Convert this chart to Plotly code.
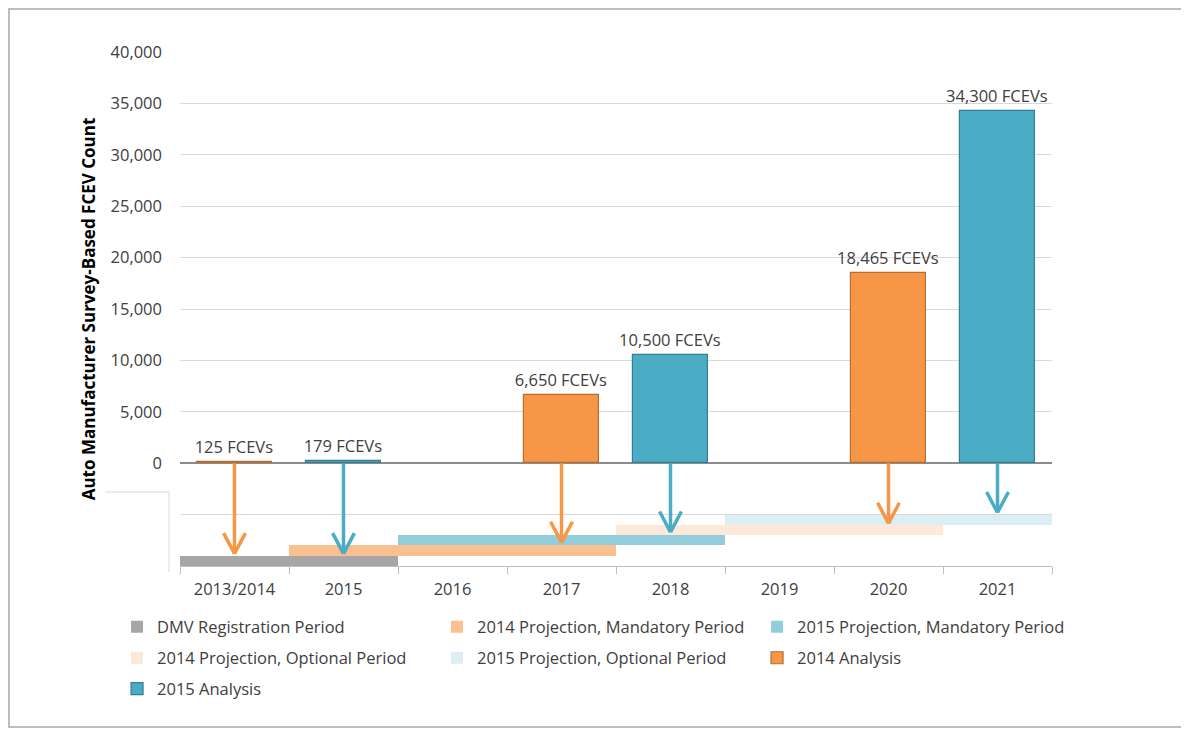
import plotly.graph_objects as go

# ---------------- data ----------------
categories = ["2013/2014", "2015", "2016", "2017", "2018", "2019", "2020", "2021"]

analysis_2014 = [125, None, None, 6650, None, None, 18465, None]
analysis_2015 = [None, 179, None, None, 10500, None, None, 34300]

period_thickness = 1000
dmv_years = ["2013/2014", "2015"]
dmv_base = -10000
mand2014_years = ["2015", "2016", "2017"]
mand2014_base = -9000
mand2015_years = ["2016", "2017", "2018"]
mand2015_base = -8000
opt2014_years = ["2018", "2019", "2020"]
opt2014_base = -7000
opt2015_years = ["2019", "2020", "2021"]
opt2015_base = -6000

arrow_years = ["2013/2014", "2015", "2017", "2018", "2020", "2021"]
arrow_series = ["2014", "2015", "2014", "2015", "2014", "2015"]
arrow_tips = [-8800, -8800, -7700, -6700, -5850, -4800]

y_tickvals = [-5000, 0, 5000, 10000, 15000, 20000, 25000, 30000, 35000, 40000]
y_ticktext = ["", "0", "5,000", "10,000", "15,000", "20,000", "25,000", "30,000", "35,000", "40,000"]

# ---------------- style ----------------
FONT = "Open Sans"
FS = 16.5
TXT = "#404040"
C_DMV = "#A6A6A6"
C_M14 = "#FAC090"
C_M15 = "#92CDDC"
C_O14 = "#FDE9D9"
C_O15 = "#DAEEF3"
C_A14 = "#F79646"
C_A15 = "#4BACC6"
L_A14 = "#B66D31"
L_A15 = "#357D91"

fig = go.Figure()


def period_bar(name, years, base, color, legend):
    fig.add_trace(go.Bar(
        name=name, x=years, y=[period_thickness] * len(years),
        base=[base] * len(years), width=1,
        marker=dict(color=color, line=dict(width=0)),
        legend=legend, hoverinfo="skip",
    ))


period_bar("DMV Registration Period", dmv_years, dmv_base, C_DMV, "legend")
period_bar("2014 Projection, Mandatory Period", mand2014_years, mand2014_base, C_M14, "legend")
period_bar("2015 Projection, Mandatory Period", mand2015_years, mand2015_base, C_M15, "legend")
period_bar("2014 Projection, Optional Period", opt2014_years, opt2014_base, C_O14, "legend2")
period_bar("2015 Projection, Optional Period", opt2015_years, opt2015_base, C_O15, "legend2")

fig.add_trace(go.Bar(
    name="2014 Analysis", x=categories, y=analysis_2014, width=0.68,
    marker=dict(color=C_A14, line=dict(color=L_A14, width=1.2)),
    texttemplate="%{y:,.0f} FCEVs", textposition="outside", constraintext="none",
    textfont=dict(family=FONT, size=FS, color=TXT), cliponaxis=False,
    legend="legend2",
))
fig.add_trace(go.Bar(
    name="2015 Analysis", x=categories, y=analysis_2015, width=0.68,
    marker=dict(color=C_A15, line=dict(color=L_A15, width=1.2)),
    texttemplate="%{y:,.0f} FCEVs", textposition="outside", constraintext="none",
    textfont=dict(family=FONT, size=FS, color=TXT), cliponaxis=False,
    legend="legend3",
))

# arrows (shaft + chevron) in data coordinates
shapes = []
dx, dy = 0.1, 2000
for yr, ser, tip in zip(arrow_years, arrow_series, arrow_tips):
    xi = categories.index(yr)
    col = C_A14 if ser == "2014" else C_A15
    ln = dict(color=col, width=3.5)
    shapes.append(dict(type="line", xref="x", yref="y", x0=xi, x1=xi, y0=0, y1=tip, line=ln, layer="above"))
    shapes.append(dict(type="line", xref="x", yref="y", x0=xi - dx, x1=xi, y0=tip + dy, y1=tip, line=ln, layer="above"))
    shapes.append(dict(type="line", xref="x", yref="y", x0=xi + dx, x1=xi, y0=tip + dy, y1=tip, line=ln, layer="above"))

# outer frame and left bracket of lower panel
shapes.append(dict(type="rect", xref="paper", yref="paper", x0=-0.1961, x1=1.1525, y0=-0.3132, y1=1.0837,
                   line=dict(color="#BDBDBD", width=2), layer="below"))
shapes.append(dict(type="line", xref="paper", yref="paper", x0=-0.0126, x1=-0.0126, y0=0.144, y1=-0.0117,
                   line=dict(color="#D9D9D9", width=1)))
shapes.append(dict(type="line", xref="paper", yref="paper", x0=-0.086, x1=-0.0126, y0=0.144, y1=0.144,
                   line=dict(color="#D9D9D9", width=1)))

legend_common = dict(orientation="h", xanchor="left", yanchor="middle", x=-0.0722,
                     font=dict(family=FONT, size=FS, color=TXT),
                     entrywidth=275, entrywidthmode="pixels", bgcolor="rgba(0,0,0,0)",
                     itemclick=False, itemdoubleclick=False)

fig.update_layout(
    width=1189, height=738,
    margin=dict(l=172, r=145, t=44, b=180),
    paper_bgcolor="white", plot_bgcolor="white",
    barmode="overlay", bargap=0,
    font=dict(family=FONT, size=FS, color=TXT),
    shapes=shapes,
    legend=dict(legend_common, y=-0.1187),
    legend2=dict(legend_common, y=-0.179),
    legend3=dict(legend_common, y=-0.239),
    xaxis=dict(
        type="category", categoryorder="array", categoryarray=categories,
        range=[-0.5, 7.5], tickson="boundaries", ticks="outside", ticklen=7,
        tickcolor="#BFBFBF", showline=True, linecolor="#BFBFBF", linewidth=1,
        showgrid=False, ticklabelstandoff=8,
        tickfont=dict(family=FONT, size=FS, color=TXT),
    ),
    yaxis=dict(
        range=[-10000, 40000], tickvals=y_tickvals, ticktext=y_ticktext,
        showgrid=True, gridcolor="#D9D9D9", gridwidth=1,
        zeroline=True, zerolinecolor="#8C8C8C", zerolinewidth=1.5,
        ticks="", ticklabelstandoff=17,
        tickfont=dict(family=FONT, size=FS, color=TXT),
        title=dict(text="<b>Auto Manufacturer Survey-Based FCEV Count</b>",
                   font=dict(family=FONT, size=17, color="#000000"), standoff=10),
    ),
)

fig.write_html("out.html")
